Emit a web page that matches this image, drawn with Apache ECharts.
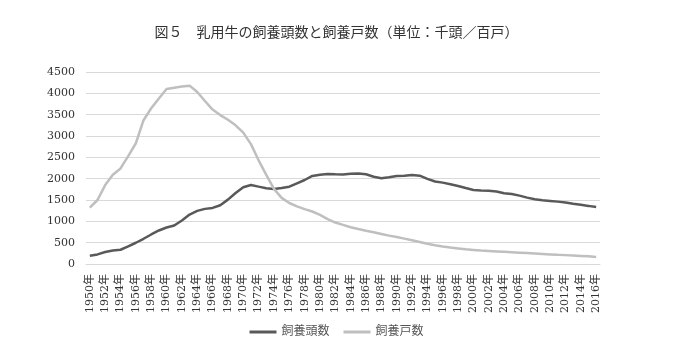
<!DOCTYPE html>
<html><head><meta charset="utf-8">
<script src="https://cdn.jsdelivr.net/npm/echarts@6/dist/echarts.min.js"></script>
<style>html,body{margin:0;padding:0;background:#fff}#c{width:673px;height:359px}</style>
</head><body><div id="c"></div>
<script>
const years = [];
for (let y = 1950; y <= 2016; y++) years.push(y + '年');
const headCount = [194,225,280,318,334,412,498,591,692,786,855,902,1019,1159,1245,1292,1315,1378,1509,1665,
  1799,1852,1813,1775,1759,1782,1813,1892,1969,2063,2093,2109,2102,2100,2115,2120,2102,2046,2009,2032,
  2060,2070,2086,2070,1995,1935,1907,1869,1829,1782,1736,1720,1718,1700,1658,1640,1603,1556,1518,1495,
  1479,1462,1439,1412,1387,1362,1335];
const households = [1320,1500,1850,2090,2240,2530,2830,3370,3650,3880,4100,4130,4160,4180,4030,3820,3620,3490,3380,3250,
  3080,2810,2430,2090,1760,1550,1430,1350,1285,1230,1152,1051,972,918,862,820,780,745,705,665,
  631,595,555,515,474,440,410,385,365,345,330,315,305,295,285,275,265,255,245,235,
  225,215,208,200,190,180,165];
const chart = echarts.init(document.getElementById('c'));
const serif = '"DejaVu Serif","Noto Sans CJK JP",serif';
chart.setOption({
  animation: false,
  title: {
    text: '図５　乳用牛の飼養頭数と飼養戸数（単位：千頭／百戸）',
    left: 'center', top: 21,
    textStyle: {fontFamily: serif, fontSize: 14, fontWeight: 'normal', color: '#333'}
  },
  legend: {
    bottom: 16, left: 'center', itemWidth: 27, itemHeight: 3, itemGap: 14,
    icon: 'rect',
    textStyle: {fontFamily: serif, fontSize: 12, color: '#555'},
    data: ['飼養頭数', '飼養戸数']
  },
  grid: {left: 86, right: 73, top: 72, bottom: 95, containLabel: false},
  xAxis: {
    type: 'category', data: years, boundaryGap: true,
    axisLine: {lineStyle: {color: '#d9d9d9'}},
    axisTick: {show: false},
    axisLabel: {interval: 1, rotate: 90, fontFamily: serif, fontSize: 11, color: '#333', margin: 10}
  },
  yAxis: {
    type: 'value', min: 0, max: 4500, interval: 500,
    axisLine: {show: false}, axisTick: {show: false},
    splitLine: {lineStyle: {color: '#d9d9d9'}},
    axisLabel: {fontFamily: serif, fontSize: 11, color: '#333', margin: 11, formatter: v => String(v)}
  },
  series: [
    {name: '飼養頭数', type: 'line', data: headCount, symbol: 'none', smooth: false,
     lineStyle: {color: '#595959', width: 2.5}, itemStyle: {color: '#595959'}},
    {name: '飼養戸数', type: 'line', data: households, symbol: 'none', smooth: false,
     lineStyle: {color: '#bfbfbf', width: 2.5}, itemStyle: {color: '#bfbfbf'}}
  ]
});
</script></body></html>
